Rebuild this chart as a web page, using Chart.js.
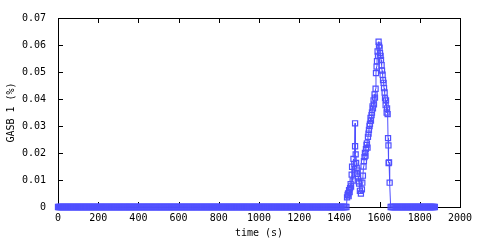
<!DOCTYPE html>
<html>
<head>
<meta charset="utf-8">
<script src="https://cdn.jsdelivr.net/npm/chart.js@4/dist/chart.umd.min.js"></script>
<style>
    html, body { margin: 0; padding: 0; background: #fff; }
    #wrap { width: 480px; height: 240px; position: relative; }
</style>
</head>
<body>
<div id="wrap"><canvas id="chart"></canvas></div>
<script>
// flat part: the signal reads 0 before and after the burst, sampled every few seconds
const sampleStep = 5
const leadZeroEnd = 1435
const tailZeroStart = 1655
const tailZeroEnd = 1875

// the burst itself
const spikeTimes = [
    1438, 1441, 1443, 1446, 1448, 1451, 1453, 1456, 1458, 1461, 1463, 1466, 1470, 1474, 1478, 1478,
    1481, 1483, 1486, 1488, 1491, 1493, 1496, 1498, 1502, 1507, 1512, 1514, 1517, 1520, 1522,
    1525, 1527, 1530, 1532, 1535, 1537, 1540, 1542, 1545, 1547, 1550, 1552, 1555, 1557, 1560,
    1562, 1565, 1567, 1570, 1572, 1575, 1577, 1580, 1582, 1585, 1587, 1590, 1592, 1595, 1597,
    1600, 1602, 1605, 1607, 1610, 1612, 1615, 1617, 1620, 1622, 1625, 1627, 1630, 1632, 1635,
    1637, 1640, 1642, 1644, 1645, 1647, 1650
]
const spikeValues = [
    0.0036, 0.0045, 0.0050, 0.0040, 0.0062, 0.0055, 0.0070, 0.0085, 0.0076, 0.0120, 0.0149, 0.0098, 0.0178, 0.0160, 0.0310, 0.0225,
    0.0195, 0.0163, 0.0145, 0.0123, 0.0135, 0.0110, 0.0095, 0.0087, 0.0060, 0.0050, 0.0065, 0.0090, 0.0116, 0.0150, 0.0170,
    0.0185, 0.0200, 0.0190, 0.0214, 0.0230, 0.0236, 0.0220, 0.0260, 0.0272, 0.0286, 0.0300, 0.0308, 0.0330, 0.0320, 0.0340,
    0.0350, 0.0373, 0.0365, 0.0395, 0.0380, 0.0417, 0.0405, 0.0438, 0.0496, 0.0520, 0.0540, 0.0576, 0.0560, 0.0612, 0.0598,
    0.0590, 0.0570, 0.0560, 0.0545, 0.0525, 0.0505, 0.0490, 0.0470, 0.0460, 0.0440, 0.0424, 0.0402, 0.0377, 0.0395, 0.0350,
    0.0365, 0.0344, 0.0255, 0.0228, 0.0163, 0.0165, 0.0090, 0.0000
]

const xTicks = [0, 200, 400, 600, 800, 1000, 1200, 1400, 1600, 1800, 2000]
const yTicks = [0, 0.01, 0.02, 0.03, 0.04, 0.05, 0.06, 0.07]

const blue = "#5050ff"
const font = {family: "'DejaVu Sans Mono', monospace", size: 10}

const points = []
for (let t = 0; t <= leadZeroEnd; t += sampleStep) points.push({x: t, y: 0})
spikeTimes.forEach((t, i) => points.push({x: t, y: spikeValues[i]}))
for (let t = tailZeroStart; t <= tailZeroEnd; t += sampleStep) points.push({x: t, y: 0})

// gnuplot style box with inward ticks on all four sides
const frame = {
    id: "frame",
    beforeDatasetsDraw(chart){
        const {ctx, chartArea: a, scales: {x, y}} = chart
        const len = 5

        ctx.save()
        ctx.strokeStyle = "#000"
        ctx.lineWidth = 1
        ctx.strokeRect(a.left + 0.5, a.top + 0.5, a.right - a.left, a.bottom - a.top)
        ctx.beginPath()
        for (let v of xTicks) {
            const px = Math.round(x.getPixelForValue(v)) + 0.5
            ctx.moveTo(px, a.bottom); ctx.lineTo(px, a.bottom - len)
            ctx.moveTo(px, a.top); ctx.lineTo(px, a.top + len)
        }
        for (let v of yTicks) {
            const py = Math.round(y.getPixelForValue(v)) + 0.5
            ctx.moveTo(a.left, py); ctx.lineTo(a.left + len, py)
            ctx.moveTo(a.right, py); ctx.lineTo(a.right - len, py)
        }
        ctx.stroke()
        ctx.restore()
    }
}

new Chart(document.getElementById("chart"), {
    type: "line",
    data: {
        datasets: [{
            data: points,
            borderColor: blue,
            borderWidth: 1,
            pointStyle: "rect",
            pointRadius: 3.6,
            pointBorderWidth: 1.2,
            pointBorderColor: blue,
            pointBackgroundColor: "rgba(0,0,0,0)",
            tension: 0,
            clip: false
        }]
    },
    options: {
        responsive: true,
        maintainAspectRatio: false,
        animation: false,
        events: [],
        layout: {padding: {top: 14, right: 20, left: 0, bottom: 0}},
        plugins: {legend: {display: false}, tooltip: {enabled: false}},
        scales: {
            x: {
                type: "linear",
                min: 0,
                max: 2000,
                afterBuildTicks: s => { s.ticks = xTicks.map(v => ({value: v})) },
                afterFit: s => { s.height = 33 },
                grid: {display: false, drawTicks: false},
                border: {display: false},
                ticks: {color: "#000", font, padding: 5, maxRotation: 0, autoSkip: false, callback: v => String(v)},
                title: {display: true, text: "time (s)", color: "#000", font, padding: {top: 0, bottom: 1}}
            },
            y: {
                type: "linear",
                min: 0,
                max: 0.07,
                afterBuildTicks: s => { s.ticks = yTicks.map(v => ({value: v})) },
                afterFit: s => { s.width = 58 },
                grid: {display: false, drawTicks: false},
                border: {display: false},
                ticks: {
                    color: "#000", font, padding: 12,
                    callback: v => v === 0 ? "0" : v.toFixed(2)
                },
                title: {display: true, text: "GASB 1 (%)", color: "#000", font, padding: {top: 5, bottom: 0}}
            }
        }
    },
    plugins: [frame]
})
</script>
</body>
</html>
